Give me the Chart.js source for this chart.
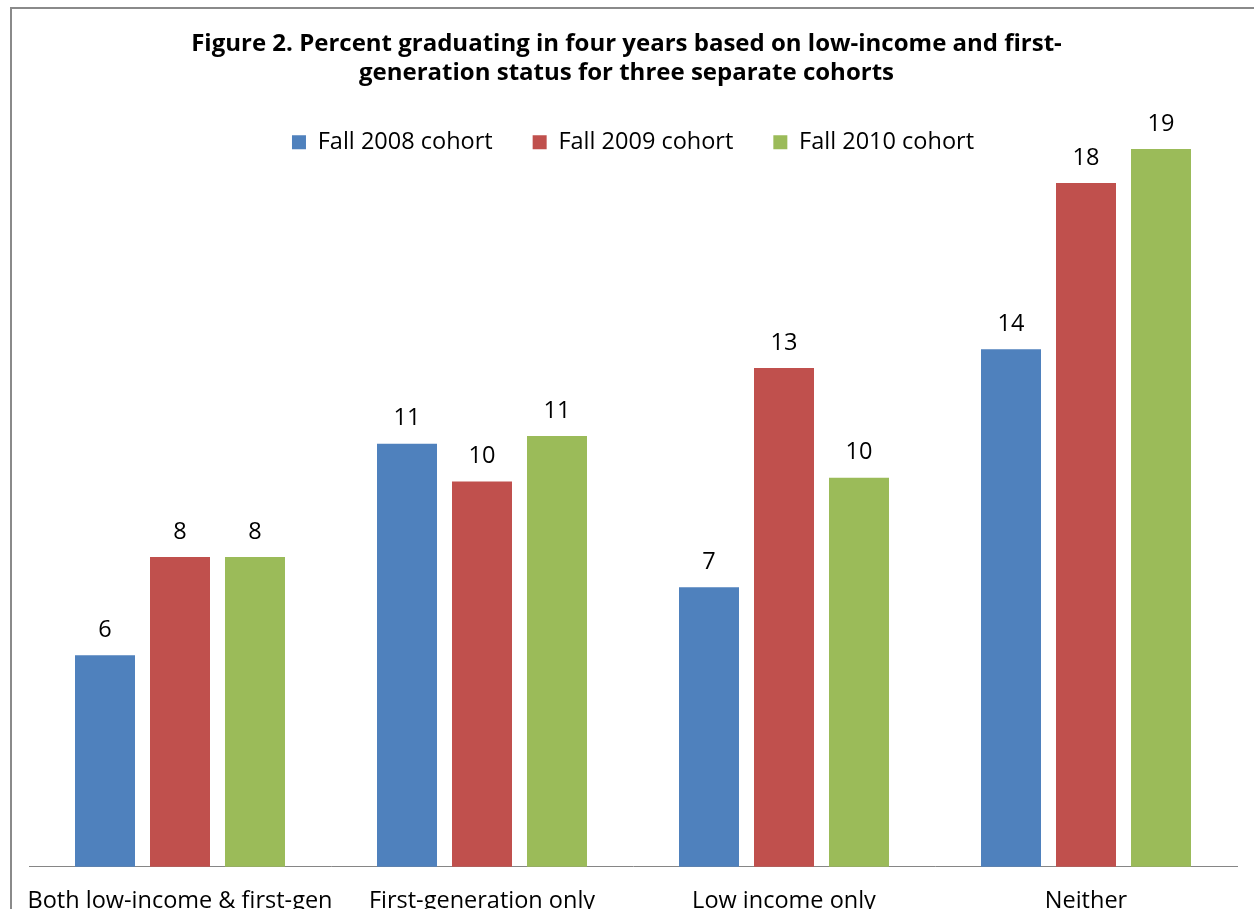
<!DOCTYPE html>
<html>
<head>
<meta charset="utf-8">
<script src="https://cdn.jsdelivr.net/npm/chart.js@4/dist/chart.umd.min.js"></script>
<style>
    html, body { margin: 0; padding: 0; background: #fff; overflow: hidden; }
    #frame {
        position: absolute; left: 10px; top: 7px;
        width: 2000px; height: 2000px;
        border: 2px solid #8a8a8a;
    }
    #wrap { position: absolute; left: 0; top: 0; width: 1254px; height: 945px; }
</style>
</head>
<body>
<div id="frame"></div>
<div id="wrap"><canvas id="chart"></canvas></div>
<script>
    "use strict";

    // values (percent graduating in four years)
    const categories = ['Both low-income & first-gen', 'First-generation only', 'Low income only', 'Neither'];
    const fall2008 = [5.6, 11.2, 7.4, 13.7];
    const fall2009 = [8.2, 10.2, 13.2, 18.1];
    const fall2010 = [8.2, 11.4, 10.3, 19.0];
    const seriesNames = ['Fall 2008 cohort', 'Fall 2009 cohort', 'Fall 2010 cohort'];
    const seriesColors = ['#4f81bd', '#c0504d', '#9bbb59'];
    const titleLines = [
        'Figure 2. Percent graduating in four years based on low-income and first-',
        'generation status for three separate cohorts'
    ];

    const fontFamily = '"Open Sans", Lato, sans-serif';
    const textSize = 23.5;
    Chart.defaults.font.family = fontFamily;
    Chart.defaults.color = '#000';

    // value labels above each bar, rounded like the original
    let barLabels = {
        id: 'barLabels',
        afterDatasetsDraw: function (chart) {
            let ctx = chart.ctx;
            ctx.save();
            ctx.font = textSize + 'px ' + fontFamily;
            ctx.fillStyle = '#000';
            ctx.textAlign = 'center';
            ctx.textBaseline = 'middle';
            chart.data.datasets.forEach((ds, i) => {
                chart.getDatasetMeta(i).data.forEach((bar, j) => {
                    ctx.fillText(Math.round(ds.data[j]), bar.x, bar.y - 25);
                });
            });
            ctx.restore();
        }
    };

    let data = {
        labels: categories,
        datasets: [fall2008, fall2009, fall2010].map((vals, i) => ({
            label: seriesNames[i],
            data: vals,
            backgroundColor: seriesColors[i],
            borderWidth: 0,
            clip: false,
            categoryPercentage: 0.745,
            barPercentage: 0.8
        }))
    };

    new Chart(document.getElementById('chart'), {
        type: 'bar',
        data: data,
        plugins: [barLabels],
        options: {
            responsive: true,
            maintainAspectRatio: false,
            animation: false,
            layout: { padding: { left: 16, right: 17, top: 0, bottom: 10 } },
            plugins: {
                tooltip: { enabled: false },
                title: {
                    display: true,
                    text: titleLines,
                    font: { size: 24, weight: 'bold' },
                    lineHeight: 1.2,
                    padding: { top: 30, bottom: 3 },
                    color: '#000'
                },
                legend: {
                    position: 'top',
                    align: 'center',
                    fullSize: false,
                    labels: {
                        font: { size: textSize },
                        boxWidth: 14,
                        boxHeight: 14,
                        padding: 40,
                        color: '#000'
                    }
                }
            },
            scales: {
                x: {
                    grid: { display: false, drawTicks: false },
                    border: { display: true, color: '#868686', width: 1 },
                    ticks: {
                        font: { size: textSize },
                        padding: 20,
                        color: '#000',
                        maxRotation: 0,
                        minRotation: 0,
                        autoSkip: false
                    }
                },
                y: {
                    min: 0,
                    max: 18.6,
                    grid: { display: false, drawTicks: false },
                    border: { display: false },
                    ticks: { display: false },
                    afterFit: function (scale) { scale.width = 13; }
                }
            }
        }
    });
</script>
</body>
</html>
